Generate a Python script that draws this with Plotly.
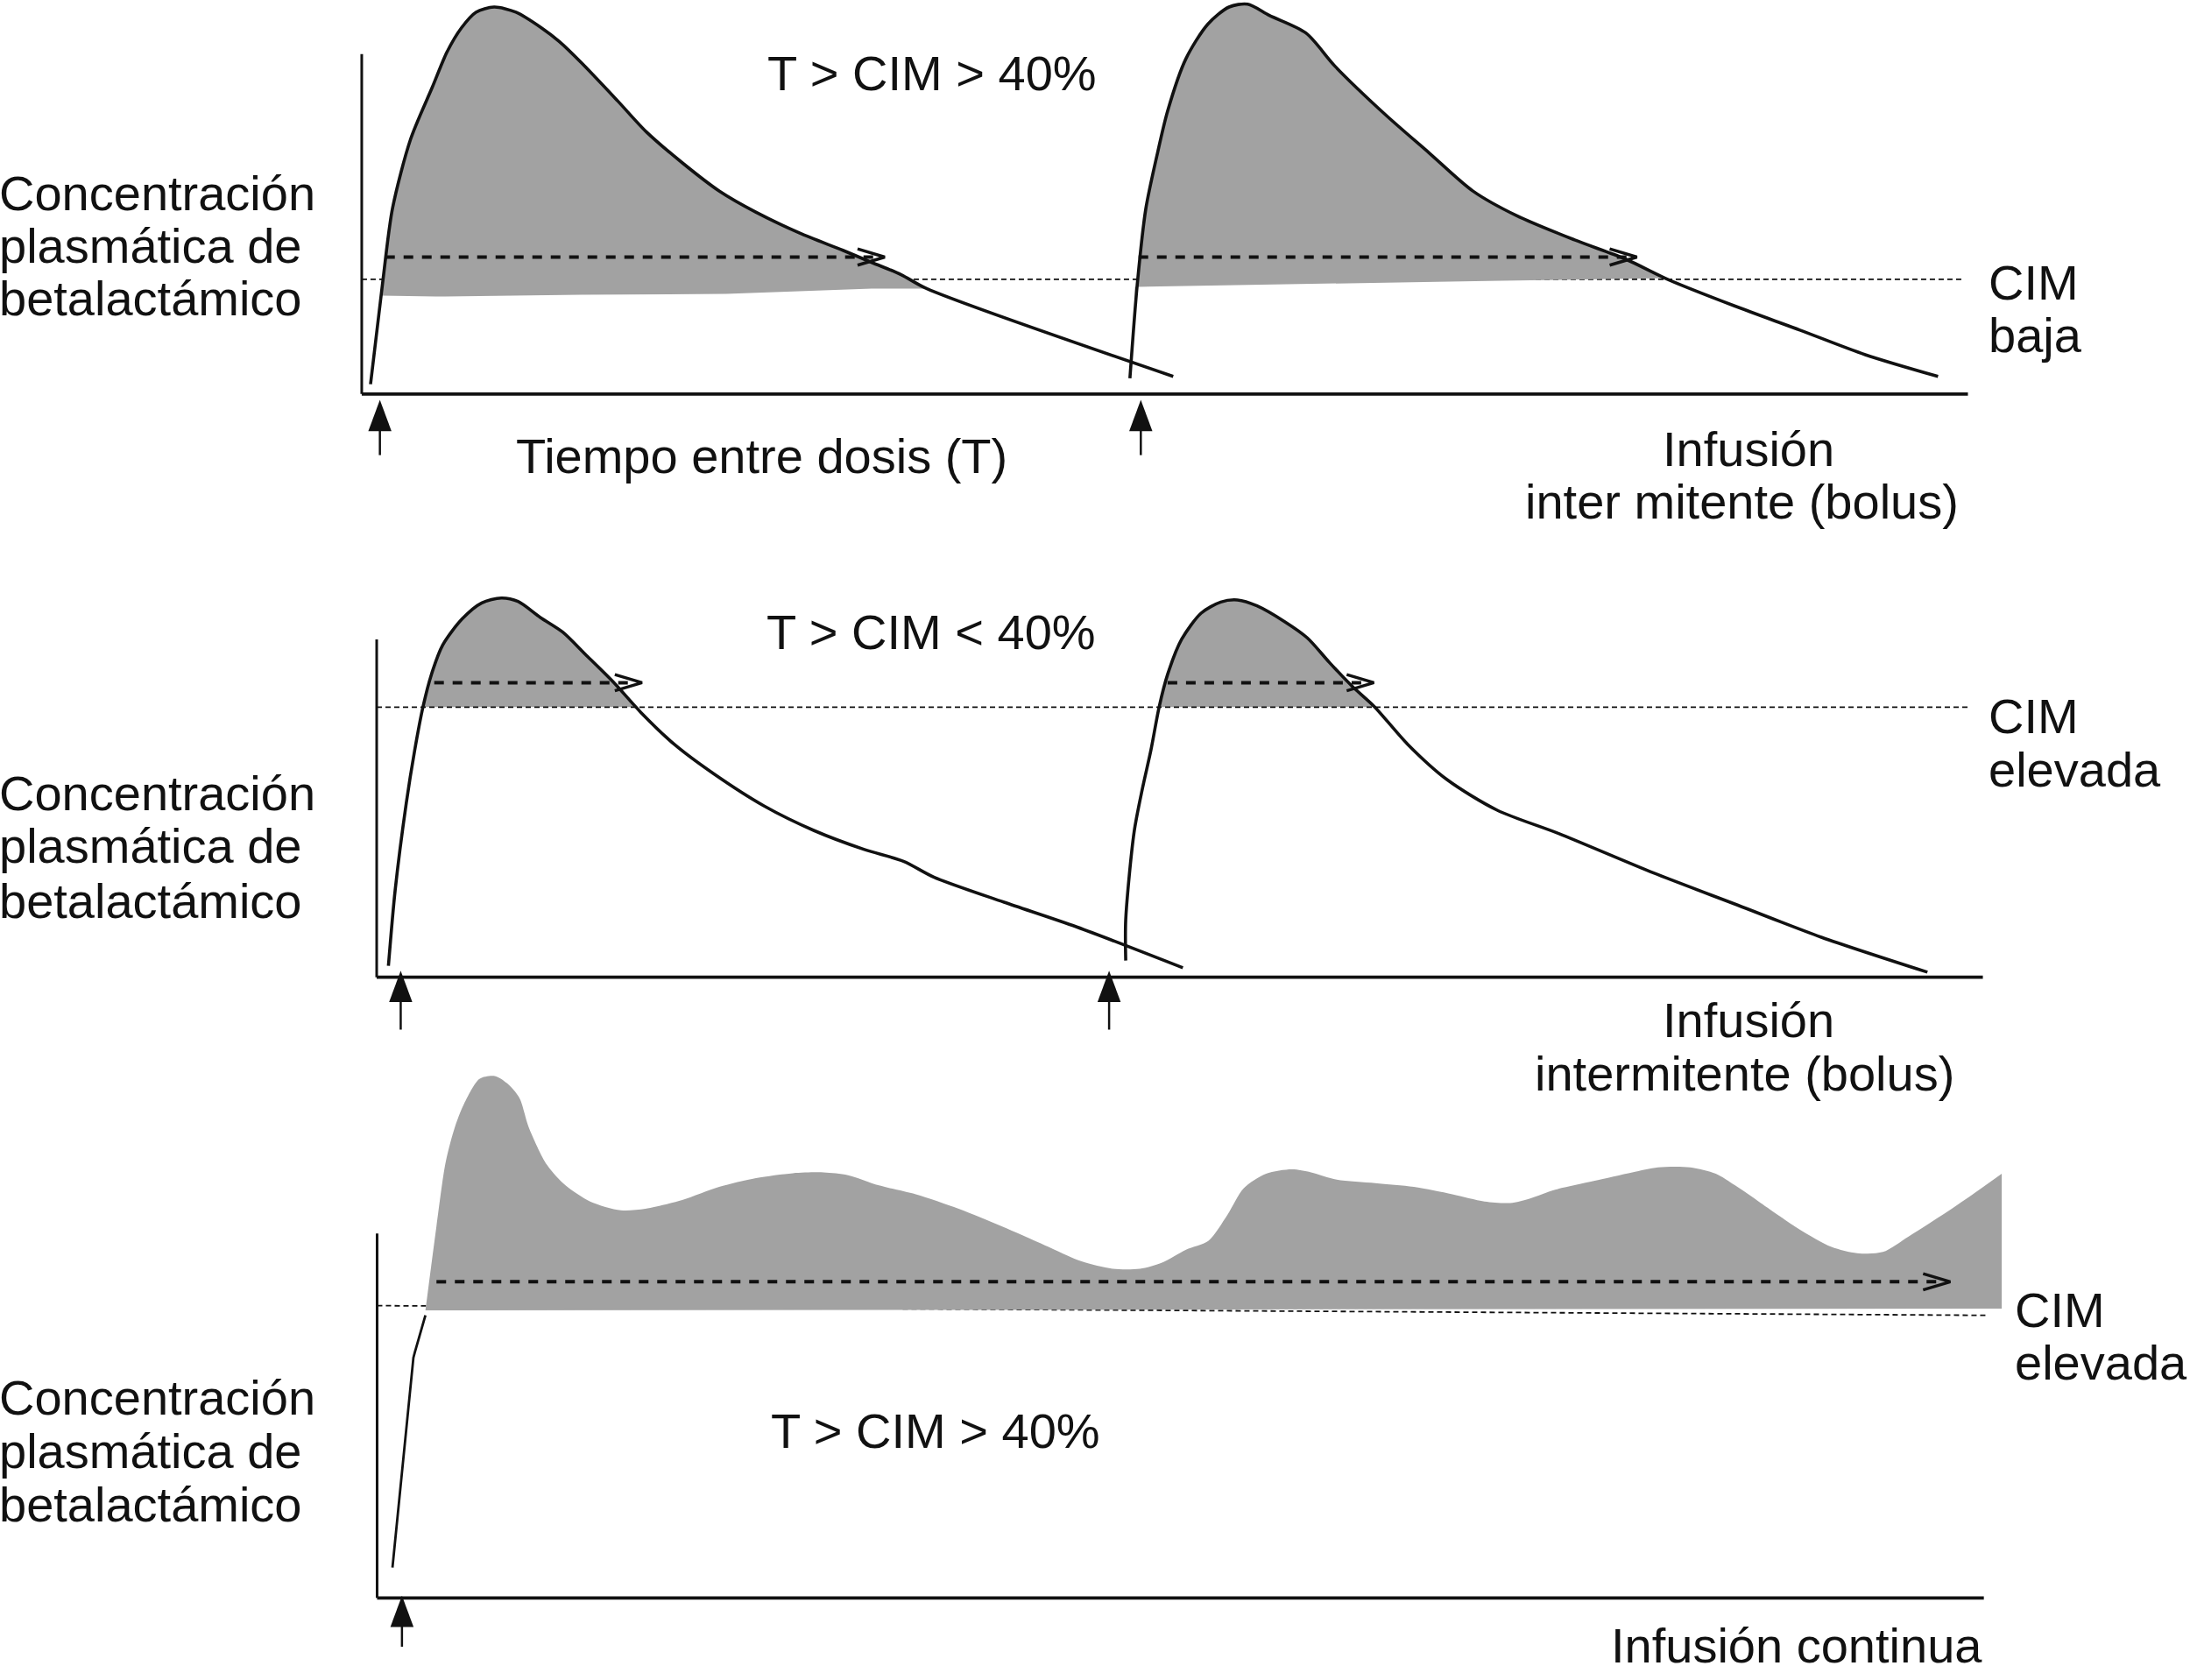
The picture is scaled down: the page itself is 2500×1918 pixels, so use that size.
"""Concentración plasmática de betalactámico: bolus intermitente frente a infusión continua.

Esquema de tres paneles. Tiempo y concentración en unidades arbitrarias,
leídos del dibujo original.
"""

import numpy as np
import plotly.graph_objects as go

# ---------------------------------------------------------------------------
# Datos
# ---------------------------------------------------------------------------

# Panel 1: bolus intermitente, CIM baja
p1_dosis1_t = [6.3, 15.2, 22, 35, 50.6, 61, 71.4, 81.8, 94.8, 110.4, 128.6, 141.6,
               157.2, 183.2, 204, 230, 256.1, 282.1, 313.3, 344.5, 365.3, 386.2, 404.4, 581]
p1_dosis1_c = [7, 81.2, 132, 181.5, 218.6, 243.4, 260.7, 271.8, 275.5, 271.8, 260.7, 250.8,
               235.9, 208.7, 186.4, 164.2, 144.4, 129.5, 114.7, 102.3, 93.6, 85, 75.1, 12.5]
p1_dosis2_t = [550, 555.2, 561.4, 569.2, 577, 590, 605.7, 621, 634.3, 649.9, 676, 696.7,
               733, 764.4, 795.6, 826.8, 868.4, 904.8, 936, 982.9, 1029.7, 1076.5, 1128.6]
p1_dosis2_c = [11.2, 77.5, 132, 169.1, 201.5, 238.5, 263.2, 275.5, 277.5, 269.5, 257, 233.5,
               198.8, 171.5, 144.5, 127, 109.7, 96.1, 81.2, 62.7, 45.5, 28, 12.5]
p1_base1_t = [14, 53, 157, 261, 365, 404.4]
p1_base1_c = [70.1, 69.4, 70.6, 71.3, 75.1, 75.1]
p1_base2_t = [553.6, 650, 806, 933]
p1_base2_c = [76.3, 78, 80.5, 82.5]
p1_cim = 81.7
p1_tmic_ini = [16.8, 556.2]
p1_tmic_fin = [374.5, 913]
p1_tmic_c = 97.5
p1_dosis_t = [13, 557.8]

# Panel 2: bolus intermitente, CIM elevada
p2_dosis1_t = [8.4, 13.2, 21.2, 27.2, 33.2, 39.2, 47.2, 61.2, 75.2, 89.2, 101.2, 117.2, 133.2,
               149.2, 169.2, 189.2, 213.2, 241.2, 277.2, 313.2, 349.2, 377.2, 399.2, 449.2,
               501.2, 577.2]
p2_dosis1_c = [8.1, 61.7, 124.1, 161.5, 192.7, 215.6, 236.4, 255.1, 266.5, 270, 267.5, 256.1,
               245.7, 230.1, 210.4, 188.5, 165.7, 144.9, 122, 104.4, 90.9, 82.5, 71.1, 53.4,
               35.8, 6.7]
p2_dosis2_t = [536.3, 536.3, 542.3, 548.3, 554.3, 560.3, 566.3, 576.3, 590.3, 604.3, 616.3,
               630.3, 650.3, 666.3, 682.3, 698.3, 714.3, 738.3, 766.3, 802.3, 846.3, 914.3,
               974.3, 1034.3, 1110.3]
p2_dosis2_c = [11.9, 41, 103.3, 134.5, 161.5, 192.7, 215.6, 240.5, 259.2, 267.1, 268.6,
               264.4, 253, 241.6, 223.9, 207.3, 192.7, 165.7, 140.7, 118.9, 102.3, 74.2,
               51.4, 28.5, 3.6]
p2_cim = 192.3
p2_tmic_ini = [41.2, 566.3]
p2_tmic_fin = [190, 714]
p2_tmic_c = 209.7
p2_dosis_t = [17.2, 524.4]

# Panel 3: infusión continua, CIM elevada
p3_subida_t = [11, 26, 27.1, 34.6]
p3_subida_c = [21.6, 171.1, 175.2, 201.2]
p3_perfil_t = [34.6, 42.5, 49.1, 55.7, 62.3, 73.3, 84.3, 93.1, 101.9, 108.5, 121.7, 134.9,
               152.5, 174.5, 192.1, 218.5, 244.9, 271.3, 297.7, 319.7, 337.2, 359.3, 385.7,
               416.4, 447.2, 478.1, 504.4, 526.4, 546.2, 561.6, 579.2, 595.1, 608.9, 620.4,
               636.5, 654.9, 668.7, 687.1, 714.7, 742.3, 769.9, 792.9, 811.3, 825.1, 843.5,
               871.1, 898.7, 917.1, 940.1, 958.5, 972.3, 990.7, 1018.3, 1041.3, 1059.7,
               1078.1, 1096.5, 1119.5, 1142.5, 1163.2]
p3_perfil_c = [204.7, 264.6, 310.3, 335.3, 351.9, 369.6, 371.6, 366.4, 356, 335.3, 308.2, 293.7,
               282.3, 276, 277.1, 283.3, 292.6, 298.9, 302.4, 303, 301, 293.7, 287.4,
               277.1, 264.6, 251.1, 239.6, 234.4, 234.4, 238.6, 248, 254.2, 272.9, 291.6,
               302, 305.1, 303, 297.8, 295.3, 292.6, 287.4, 282.3, 281.2, 284.3, 290.6,
               296.8, 303, 306.6, 306.6, 302, 293.7, 281.2, 262.5, 250, 245.5,
               246.3, 257.3, 271.9, 287.4, 302]
p3_base_t = [34.6, 1163.2]
p3_base_c = [204.7, 206]
p3_cim_t = [0, 1154]
p3_cim_c = [208.1, 201.2]
p3_tmic_ini = [42.5]
p3_tmic_fin = [1126.4]
p3_tmic_c = 225.1
p3_dosis_t = [17.8]

# ---------------------------------------------------------------------------
# Estilo y disposición
# ---------------------------------------------------------------------------
FIG_W, FIG_H = 2500, 1918
SPAN_T, SPAN_C = 1568, 1196          # unidades de dibujo que abarca la figura
GRIS = "#a2a2a2"
NEGRO = "#111111"
FUENTE = "Liberation Sans, Arial, Helvetica, sans-serif"
FS = 56
GROSOR = 3.6
PUNTEADO = "6px,4px"
DISCONTINUO = "11px,10px"

# origen de cada panel (en unidades de dibujo), longitud de ejes, flecha de dosis
PANELES = {
    1: dict(x0=259, base=280.5, t_fin=1150, c_top=242, punta=-4.2, cola=-43.5),
    2: dict(x0=269.7, base=695.7, t_fin=1150, c_top=240.5, punta=4.6, cola=-37.3),
    3: dict(x0=270, base=1137.6, t_fin=1150.4, c_top=259.4, punta=1.6, cola=-34.7),
}


def _ejes(i):
    return ("x", "y") if i == 1 else (f"x{i}", f"y{i}")


def linea(fig, i, t, c, width=GROSOR, dash=None, color=NEGRO, suave=False):
    xa, ya = _ejes(i)
    fig.add_trace(go.Scatter(
        x=list(t), y=list(c), mode="lines", xaxis=xa, yaxis=ya,
        line=dict(color=color, width=width, dash=dash,
                  shape="spline" if suave else "linear", smoothing=0.8),
        hoverinfo="skip", showlegend=False,
    ))


def area(fig, i, t_bajo, c_bajo, t_alto, c_alto):
    """Área gris entre un borde inferior recto y un borde superior suavizado."""
    xa, ya = _ejes(i)
    fig.add_trace(go.Scatter(
        x=list(t_bajo), y=list(c_bajo), mode="lines", xaxis=xa, yaxis=ya,
        line=dict(width=0, color=GRIS), hoverinfo="skip", showlegend=False,
    ))
    fig.add_trace(go.Scatter(
        x=list(t_alto), y=list(c_alto), mode="lines", xaxis=xa, yaxis=ya,
        fill="tonexty", fillcolor=GRIS,
        line=dict(width=0, color=GRIS, shape="spline", smoothing=0.8),
        hoverinfo="skip", showlegend=False,
    ))


def poligono(fig, i, t, c, color=NEGRO):
    xa, ya = _ejes(i)
    fig.add_trace(go.Scatter(
        x=list(t), y=list(c), mode="lines", xaxis=xa, yaxis=ya,
        fill="toself", fillcolor=color, line=dict(width=0, color=color),
        hoverinfo="skip", showlegend=False,
    ))


def tramo(t, c, t_a, t_b):
    """Curva recortada entre t_a y t_b (con extremos interpolados)."""
    t = np.asarray(t, float)
    c = np.asarray(c, float)
    dentro = (t > t_a) & (t < t_b)
    tt = np.concatenate([[t_a], t[dentro], [t_b]])
    cc = np.concatenate([[np.interp(t_a, t, c)], c[dentro], [np.interp(t_b, t, c)]])
    return tt, cc


def sobre_nivel(t, c, nivel):
    """Parte de la curva por encima de la CIM (con los cruces incluidos)."""
    tt, cc = [], []
    for k in range(len(t) - 1):
        t0, c0, t1, c1 = t[k], c[k], t[k + 1], c[k + 1]
        if c0 >= nivel:
            tt.append(t0)
            cc.append(c0)
        if (c0 - nivel) * (c1 - nivel) < 0:
            f = (nivel - c0) / (c1 - c0)
            tt.append(t0 + f * (t1 - t0))
            cc.append(nivel)
    return tt, cc


def flecha_tmic(fig, i, t_ini, t_fin, nivel):
    for a, b in zip(t_ini, t_fin):
        linea(fig, i, [a, b - 4], [nivel, nivel], width=4, dash=DISCONTINUO)
        linea(fig, i, [b - 19.5, b, b - 19.5], [nivel + 5.8, nivel, nivel - 5.8], width=3.5)


def flecha_dosis(fig, i, dosis):
    p = PANELES[i]
    for t in dosis:
        linea(fig, i, [t, t], [p["punta"] - 18, p["cola"]], width=2.5)
        poligono(fig, i, [t, t - 8.3, t + 8.3],
                 [p["punta"], p["punta"] - 22.3, p["punta"] - 22.3])


fig = go.Figure()

# --- Panel 1
linea(fig, 1, [0, 1146], [p1_cim, p1_cim], width=1.8, dash=PUNTEADO)
tt, cc = tramo(p1_dosis1_t, p1_dosis1_c, p1_base1_t[0], p1_base1_t[-1])
area(fig, 1, p1_base1_t, p1_base1_c, tt, cc)
tt, cc = tramo(p1_dosis2_t, p1_dosis2_c, p1_base2_t[0], p1_base2_t[-1])
area(fig, 1, p1_base2_t, p1_base2_c, tt, cc)
linea(fig, 1, p1_dosis1_t, p1_dosis1_c, suave=True)
linea(fig, 1, p1_dosis2_t, p1_dosis2_c, suave=True)
flecha_tmic(fig, 1, p1_tmic_ini, p1_tmic_fin, p1_tmic_c)
flecha_dosis(fig, 1, p1_dosis_t)

# --- Panel 2
for t, c in [(p2_dosis1_t, p2_dosis1_c), (p2_dosis2_t, p2_dosis2_c)]:
    tt, cc = sobre_nivel(t, c, p2_cim)
    area(fig, 2, [tt[0], tt[-1]], [p2_cim, p2_cim], tt, cc)
linea(fig, 2, [0, 1140], [p2_cim, p2_cim], width=1.8, dash=PUNTEADO)
linea(fig, 2, p2_dosis1_t, p2_dosis1_c, suave=True)
linea(fig, 2, p2_dosis2_t, p2_dosis2_c, suave=True)
flecha_tmic(fig, 2, p2_tmic_ini, p2_tmic_fin, p2_tmic_c)
flecha_dosis(fig, 2, p2_dosis_t)

# --- Panel 3
linea(fig, 3, p3_cim_t, p3_cim_c, width=1.8, dash=PUNTEADO)
area(fig, 3, p3_base_t, p3_base_c, p3_perfil_t, p3_perfil_c)
linea(fig, 3, p3_subida_t, p3_subida_c, width=2.8)
flecha_tmic(fig, 3, p3_tmic_ini, p3_tmic_fin, p3_tmic_c)
flecha_dosis(fig, 3, p3_dosis_t)

# ejes de cada panel: solo las dos líneas, sin marcas
shapes = []
for i, p in PANELES.items():
    xa, ya = _ejes(i)
    shapes.append(dict(type="line", xref=xa, yref=ya, x0=0, x1=p["t_fin"], y0=0, y1=0,
                       line=dict(color=NEGRO, width=3.8)))
    shapes.append(dict(type="line", xref=xa, yref=ya, x0=0, x1=0, y0=0, y1=p["c_top"],
                       line=dict(color=NEGRO, width=3)))

# textos: (texto, x, línea base, alineación) en píxeles de la figura
TEXTOS = [
    ("Concentración", -3, 240, "left"),
    ("plasmática de", -3, 300, "left"),
    ("betalactámico", -3, 360, "left"),
    ("T > CIM > 40%", 1064, 103, "center"),
    ("CIM", 2268, 342, "left"),
    ("baja", 2268, 402, "left"),
    ("Tiempo entre dosis (T)", 869, 540, "center"),
    ("Infusión", 1996, 532, "center"),
    ("inter mitente (bolus)", 1988, 592, "center"),
    ("T > CIM < 40%", 1063, 741, "center"),
    ("CIM", 2268, 837, "left"),
    ("elevada", 2268, 898, "left"),
    ("Concentración", -3, 925, "left"),
    ("plasmática de", -3, 985, "left"),
    ("betalactámico", -3, 1048, "left"),
    ("Infusión", 1996, 1184, "center"),
    ("intermitente (bolus)", 1992, 1245, "center"),
    ("CIM", 2298, 1515, "left"),
    ("elevada", 2298, 1575, "left"),
    ("Concentración", -3, 1615, "left"),
    ("plasmática de", -3, 1676, "left"),
    ("betalactámico", -3, 1737, "left"),
    ("T > CIM > 40%", 1068, 1653, "center"),
    ("Infusión continua", 2265, 1898, "right"),
]
annotations = [
    dict(text=s, x=x / FIG_W, y=1 - (b - 0.347 * FS) / FIG_H, xref="paper", yref="paper",
         xanchor=anc, yanchor="middle", showarrow=False,
         font=dict(family=FUENTE, size=FS, color=NEGRO))
    for s, x, b, anc in TEXTOS
]

layout_ejes = {}
for i, p in PANELES.items():
    sx = "xaxis" if i == 1 else f"xaxis{i}"
    sy = "yaxis" if i == 1 else f"yaxis{i}"
    xa, ya = _ejes(i)
    layout_ejes[sx] = dict(domain=[0, 1], range=[-p["x0"], SPAN_T - p["x0"]], visible=False,
                           anchor=ya, fixedrange=True)
    layout_ejes[sy] = dict(domain=[0, 1], range=[p["base"] - SPAN_C, p["base"]], visible=False,
                           anchor=xa, fixedrange=True)

fig.update_layout(
    width=FIG_W,
    height=FIG_H,
    margin=dict(l=0, r=0, t=0, b=0),
    paper_bgcolor="white",
    plot_bgcolor="rgba(0,0,0,0)",
    showlegend=False,
    shapes=shapes,
    annotations=annotations,
    **layout_ejes,
)

# la página trae margen de 8 px en <body>; se quita para que la figura ocupe la ventana
fig.write_html(
    "out.html",
    config={"displayModeBar": False},
    post_script="document.body.style.margin = '0';",
)
